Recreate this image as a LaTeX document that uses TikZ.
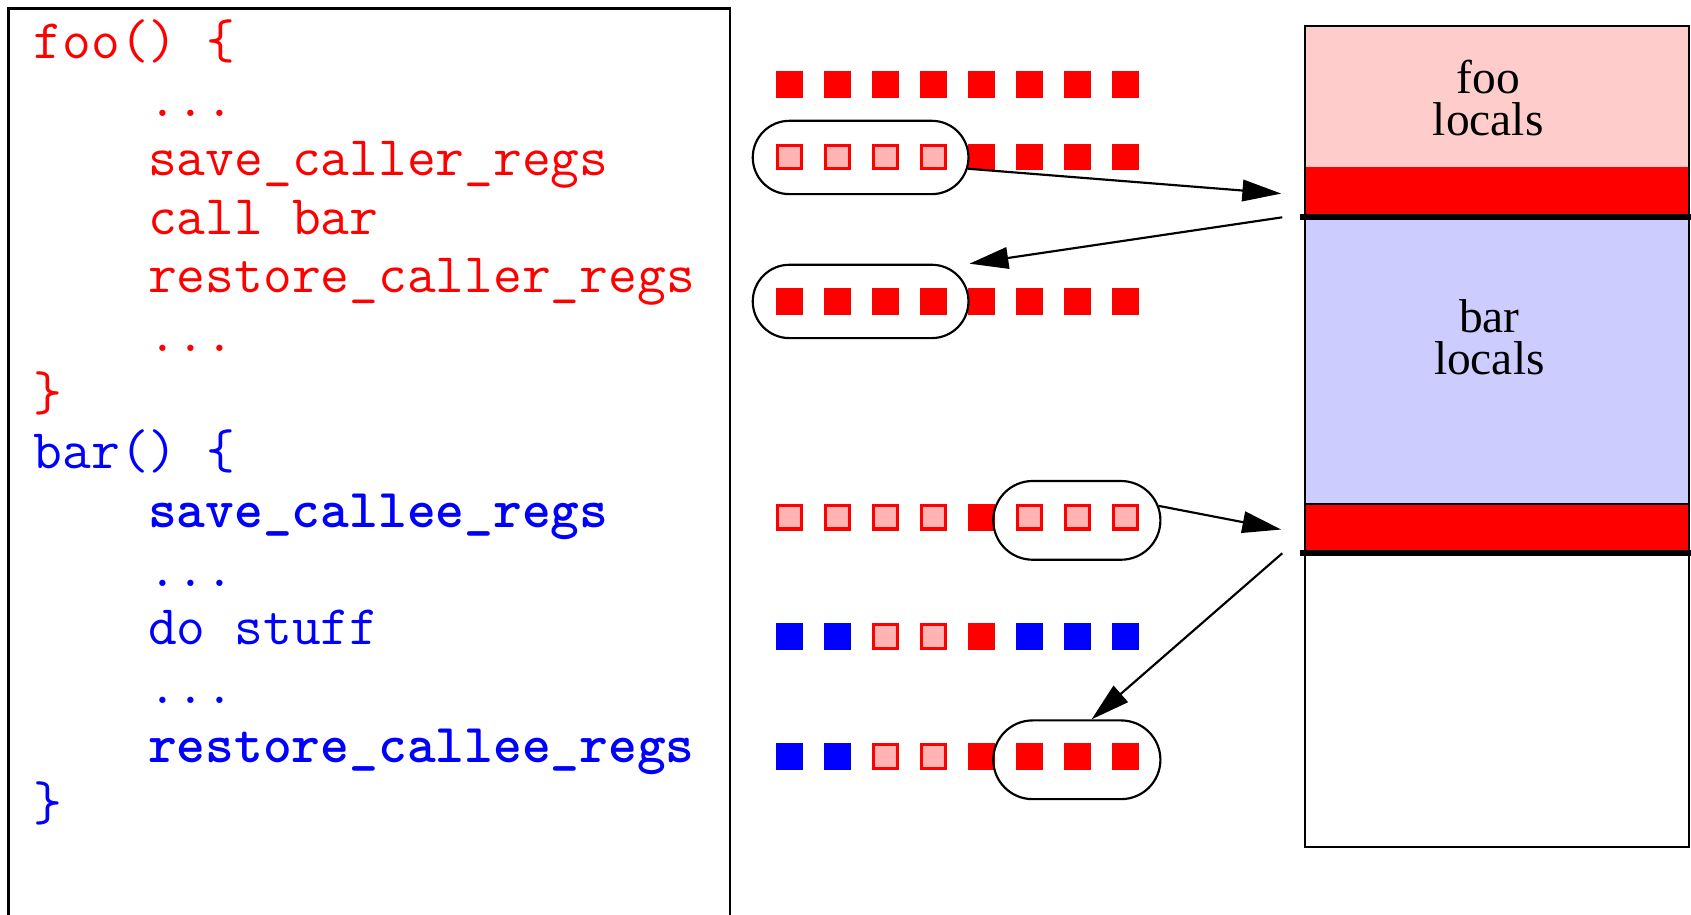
\documentclass[tikz,border=0pt]{standalone}
\usepackage{fontspec}
\newfontfamily\stackfont{Liberation Serif}
\usetikzlibrary{arrows.meta,shapes.misc}

\definecolor{codered}{RGB}{255,0,0}
\definecolor{codeblue}{RGB}{0,0,255}
\definecolor{savedpink}{RGB}{255,179,179}
\definecolor{foopink}{RGB}{255,204,204}
\definecolor{barlav}{RGB}{204,204,255}

\begin{document}
\begin{tikzpicture}[x=0.5pt,y=-0.5pt,
  code/.style={anchor=base west, inner sep=0pt, font=\fontsize{25.9}{30}\selectfont\ttfamily},
  foocode/.style={code, text=codered},
  barcode/.style={code, text=codeblue},
  boldcode/.style={barcode, font=\fontsize{25.4}{30}\selectfont\ttfamily\bfseries},
  sqR/.style={fill=codered, draw=none, minimum size=12.4pt, inner sep=0pt},
  sqB/.style={fill=codeblue, draw=none, minimum size=12.4pt, inner sep=0pt},
  sqP/.style={fill=savedpink, draw=codered, line width=1.4pt, minimum size=11pt, inner sep=0pt},
  capsule/.style={rounded rectangle, draw=black, line width=1pt, inner sep=0pt},
  stacklabel/.style={anchor=center, align=center, inner sep=0pt,
    font=\fontsize{22}{19.5}\selectfont\stackfont},
  arr/.style={line width=1pt, -{Triangle[length=18pt,width=10pt]}}
]
\useasboundingbox (0,0) rectangle (1568,848);

% ---------------- source code panel ----------------
\draw[line width=1.2pt] (8,860) -- (8,8) -- (677,8) -- (677,860);

\node[foocode]  (l1)  at (31,54)      {foo() \{};
\node[foocode]  (l2)  at (137,108.4)  {...};
\node[foocode]  (l3)  at (137,162.8)  {save\_caller\_regs};
\node[foocode]  (l4)  at (137,217.2)  {call bar};
\node[foocode]  (l5)  at (137,271.6)  {restore\_caller\_regs};
\node[foocode]  (l6)  at (137,326)    {...};
\node[foocode]  (l7)  at (31,380.4)   {\}};
\node[barcode]  (l8)  at (31,434.8)   {bar() \{};
\node[boldcode] (l9)  at (137,489.2)  {save\_callee\_regs};
\node[barcode]  (l10) at (137,543.6)  {...};
\node[barcode]  (l11) at (137,598)    {do stuff};
\node[barcode]  (l12) at (137,652.4)  {...};
\node[boldcode] (l13) at (137,706.8)  {restore\_callee\_regs};
\node[barcode]  (l14) at (31,761.2)   {\}};

% ---------------- register file snapshots ----------------
\foreach \r/\y/\cols in {
    1/78.5/{R,R,R,R,R,R,R,R},
    2/145.5/{P,P,P,P,R,R,R,R},
    3/279.5/{R,R,R,R,R,R,R,R},
    4/479.5/{P,P,P,P,R,P,P,P},
    5/590.5/{B,B,P,P,R,B,B,B},
    6/701.5/{B,B,P,P,R,R,R,R}}{
  \foreach \c [count=\k from 0] in \cols {
    \node[style=sq\c] (s\r-\k) at ({732+44.5*\k},\y) {};
  }
}

\node[capsule, minimum width=100pt, minimum height=34pt]   (c2) at (798,146)   {};
\node[capsule, minimum width=100pt, minimum height=34pt]   (c3) at (798,279.5) {};
\node[capsule, minimum width=77.5pt, minimum height=36.5pt] (c4) at (998.5,482.5) {};
\node[capsule, minimum width=77.5pt, minimum height=36.5pt] (c6) at (998.5,704.5) {};

% ---------------- stack ----------------
\fill[foopink] (1210,24)  rectangle (1566,155);
\fill[codered] (1210,155) rectangle (1566,201);
\fill[barlav]  (1210,201) rectangle (1566,467);
\fill[codered] (1210,467) rectangle (1566,513);
\draw[line width=1pt] (1210,467) -- (1566,467);
\draw[line width=2.6pt] (1205,201) -- (1568,201);
\draw[line width=2.6pt] (1205,513) -- (1568,513);
\draw[line width=1pt] (1210,24) rectangle (1566,785);

\node[stacklabel] (foolocals) at (1380,91)    {foo\\locals};
\node[stacklabel] (barlocals) at (1381,312.5) {bar\\locals};

\coordinate (save1) at (1188,179.5);
\coordinate (sp1)   at (1189,201.5);
\coordinate (save2) at (1188,491);
\coordinate (sp2)   at (1189,513);

% ---------------- save / restore arrows ----------------
\draw[arr] (c2.-6) -- (save1);
\draw[arr] (sp1) -- (c3.north -| c3.east);
\draw[arr] (c4.10) -- (save2);
\draw[arr] (sp2) -- (c6.70);
\end{tikzpicture}
\end{document}
